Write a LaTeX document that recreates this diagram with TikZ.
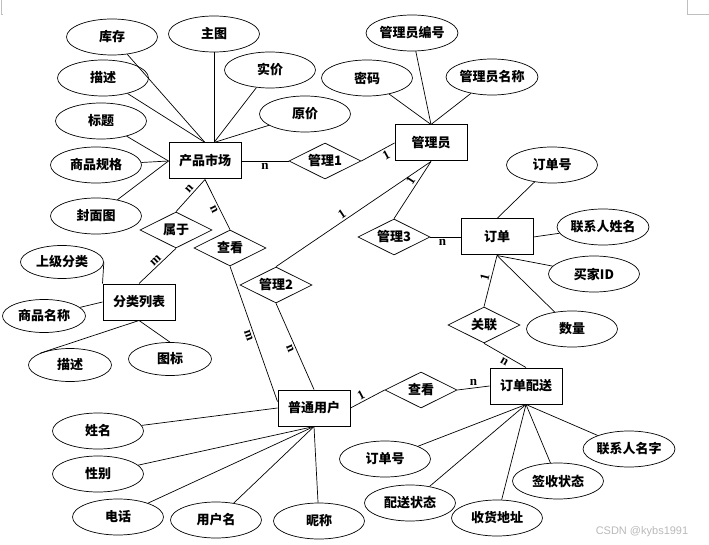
\documentclass[tikz,border=0pt]{standalone}
\usepackage{fontspec}
\setmainfont{Liberation Serif}
\setsansfont{Liberation Sans}
\newfontfamily\cjk{Noto Sans CJK SC}
\usetikzlibrary{shapes.geometric, positioning}
\tikzset{
  zh/.style={font=\cjk\bfseries\fontsize{13}{15}\selectfont},
  attr/.style={draw, ellipse, zh, line width=0.7pt, minimum width=91pt, minimum height=36pt, inner sep=0pt},
  attrs/.style={attr, minimum width=83pt, minimum height=33pt},
  ent/.style={draw, rectangle, zh, line width=1pt, minimum width=72pt, minimum height=36pt},
  rel/.style={draw, diamond, zh, aspect=2, line width=0.7pt, minimum width=72pt, minimum height=36pt, inner sep=0pt},
  card/.style={font=\bfseries\fontsize{13}{15}\selectfont, inner sep=2pt},
  link/.style={line width=0.7pt},
}

\begin{document}
\begin{tikzpicture}[x=1pt,y=-1pt]
			\useasboundingbox (0,0) rectangle (709,545);
			% page corner marks
			\draw[gray!50,line width=0.6pt] (1,0) -- (1,14) -- (3,14);
			\draw[gray!50,line width=0.6pt] (687,0) -- (687,14) -- (709,14);
			% entities
			\node[ent] (pm) at (205,161) {产品市场};
			\node[ent] (gly) at (431,143) {管理员};
			\node[ent] (dd) at (497,237) {订单};
			\node[ent] (fl) at (139,302) {分类列表};
			\node[ent] (yh) at (314,408) {普通用户};
			\node[ent] (ps) at (526,386) {订单配送};
			% relations
			\node[rel] (gl1) at (325,161) {管理1};
			\node[rel] (gl2) at (276,285) {管理2};
			\node[rel] (gl3) at (394,237) {管理3};
			\node[rel] (sy) at (176,230) {属于};
			\node[rel] (ck1) at (230,248) {查看};
			\node[rel] (gx) at (484,325) {关联};
			\node[rel] (ck2) at (421,390) {查看};
			% attributes of 产品市场
			\node[attr] (kc) at (112,37) {库存};
			\node[attr] (zt) at (214,34) {主图};
			\node[attr] (sj) at (270,70) {实价};
			\node[attr] (ms) at (103,78) {描述};
			\node[attr] (yj) at (305,114) {原价};
			\node[attr] (bt) at (101,121) {标题};
			\node[attr] (gg) at (96,165) {商品规格};
			\node[attr] (fm) at (96,216) {封面图};
			% attributes of 管理员
			\node[attr] (bh) at (412,33) {管理员编号};
			\node[attr] (mm) at (367,78) {密码};
			\node[attr] (mc) at (492,77) {管理员名称};
			% attributes of 订单
			\node[attr] (ddh) at (552,165) {订单号};
			\node[attr] (lxr) at (603,227) {联系人姓名};
			\node[attr] (mj) at (594,274) {买家ID};
			\node[attr] (sl) at (572,329) {数量};
			% attributes of 分类列表
			\node[attrs] (sjfl) at (62,262) {上级分类};
			\node[attrs] (spmc) at (44,316) {商品名称};
			\node[attrs] (ms2) at (70,365) {描述};
			\node[attrs] (tb) at (170,359) {图标};
			% attributes of 普通用户
			\node[attr] (xm) at (98,431) {姓名};
			\node[attr] (xb) at (98,474) {性别};
			\node[attr] (dh) at (118,517) {电话};
			\node[attr] (yhm) at (216,520) {用户名};
			\node[attr] (nc) at (319,521) {昵称};
			% attributes of 订单配送
			\node[attr] (ddh2) at (385,459) {订单号};
			\node[attr] (pszt) at (410,503) {配送状态};
			\node[attr] (shdz) at (497,518) {收货地址};
			\node[attr] (qszt) at (558,481) {签收状态};
			\node[attr] (lxmz) at (629,449) {联系人名字};
			% attribute links
			\foreach \a in {kc,ms} \draw[link] (\a) -- (pm.north);
			\foreach \a in {zt,sj,yj} \draw[link] (\a) -- ([xshift=9pt]pm.north);
			\foreach \a in {bt,gg,fm} \draw[link] (\a) -- (pm.west);
			\foreach \a in {bh,mm,mc} \draw[link] (\a) -- (gly.north);
			\draw[link] (ddh) -- (dd.north);
			\draw[link] (lxr) -- (dd.east);
			\foreach \a in {mj,sl} \draw[link] (\a) -- (dd.south);
			\draw[link] (sjfl.east) -- (fl.north west);
			\draw[link] (spmc) -- (fl.west);
			\draw[link] (ms2.north west) -- (fl.south);
			\draw[link] (tb.north) -- (fl.south);
			\draw[link] (xm) -- (yh.west);
			\foreach \a in {xb,dh,yhm,nc} \draw[link] (\a) -- (yh.south);
			\foreach \a in {ddh2,pszt,shdz,qszt,lxmz} \draw[link] (\a) -- (ps.south);
			% relation links
			\draw[link] (pm.east) -- node[card,below]{n} (gl1.west);
			\draw[link] (gl1.east) -- node[card,pos=.65,sloped,below]{1} (gly.west);
			\draw[link] (gly.south) -- node[card,pos=.55,sloped,above]{1} (gl2.north);
			\draw[link] (gly.south) -- node[card,pos=.4,sloped,above]{1} (gl3.north);
			\draw[link] (gl3.east) -- node[card,pos=.4,below]{n} (dd.west);
			\draw[link] (dd.south) -- node[card,pos=.45,sloped,above]{1} (gx.north);
			\draw[link] (gx.south) -- node[card,pos=.55,sloped,below]{n} (ps.north);
			\draw[link] (yh.east) -- node[card,pos=.4,sloped,above]{1} (ck2.west);
			\draw[link] (ck2.east) -- node[card,above]{n} (ps.west);
			\draw[link] (pm.south) -- node[card,pos=.4,sloped,above]{n} (sy.north);
			\draw[link] (sy.south) -- node[card,pos=.45,sloped,above]{m} (fl.north);
			\draw[link] (pm.south) -- node[card,pos=.55,sloped,below]{n} (ck1.north);
			\draw[link] (ck1.south) -- node[card,pos=.5,sloped,below]{m} (yh.170);
			\draw[link] (gl2.south) -- node[card,pos=.5,sloped,below]{n} (yh.north);
			% watermark
			\node[font=\sffamily\fontsize{11}{13}\selectfont,text=gray!55] (wm) at (642,532) {CSDN @kybs1991};
\end{tikzpicture}
\end{document}
